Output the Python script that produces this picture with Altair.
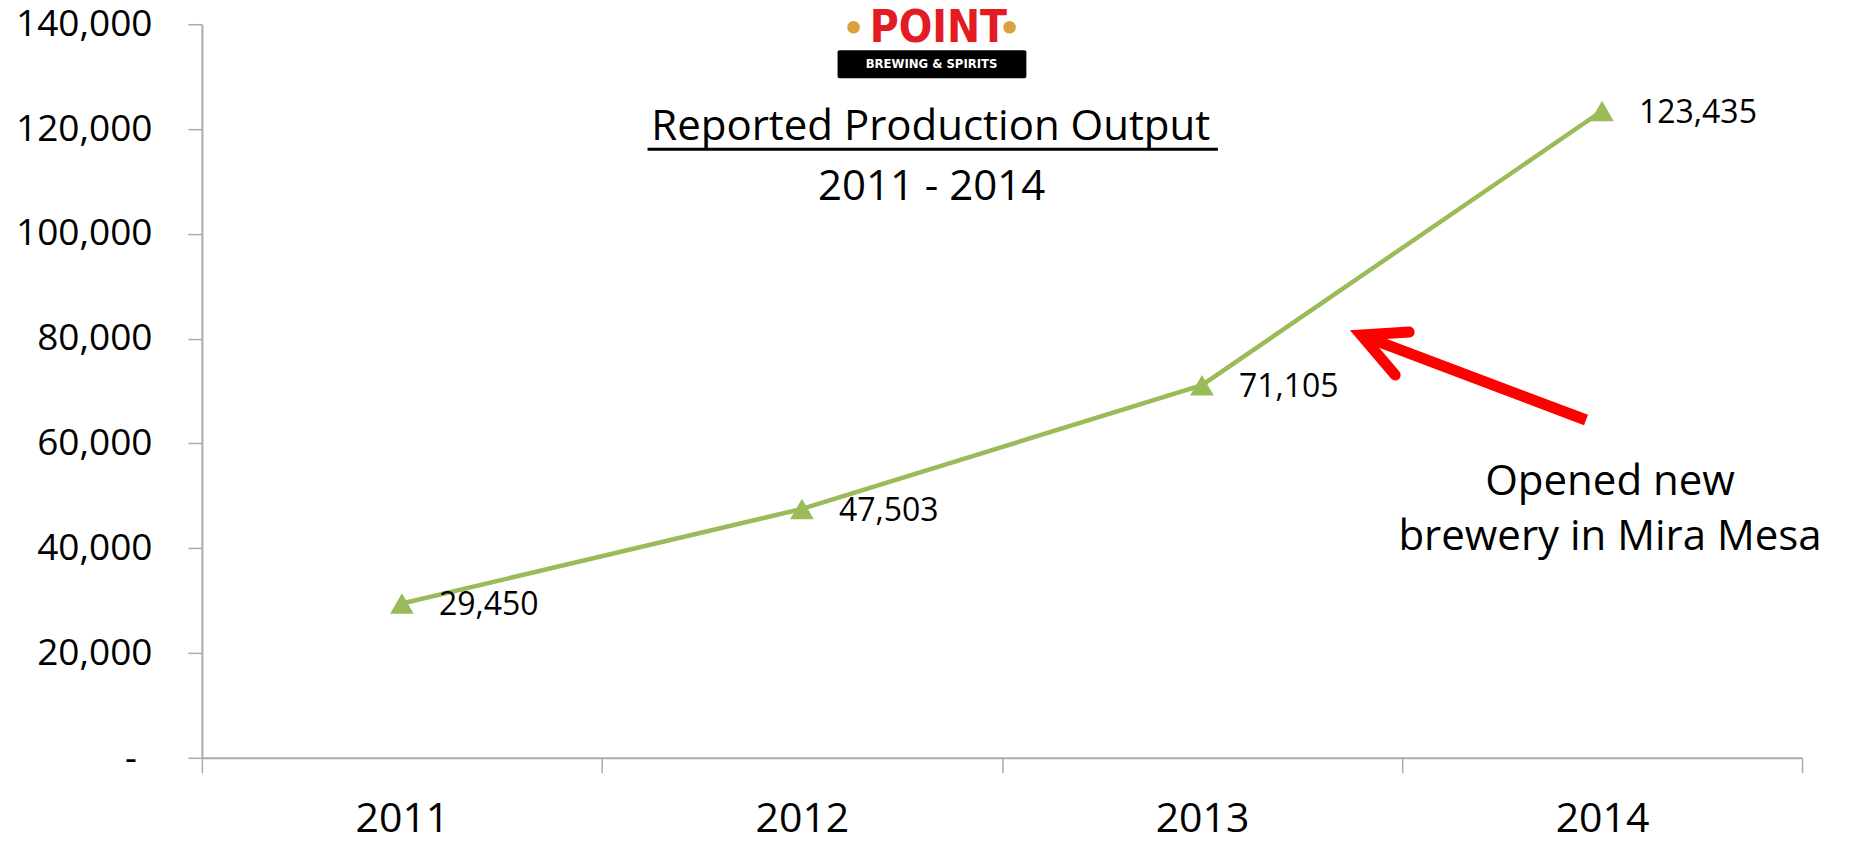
import altair as alt
import pandas as pd

# ---- data ----
years = [2011, 2012, 2013, 2014]
output = [29450, 47503, 71105, 123435]
value_labels = ["29,450", "47,503", "71,105", "123,435"]

y_ticks = [0, 20000, 40000, 60000, 80000, 100000, 120000, 140000]
x_ticks = [2010.5, 2011, 2011.5, 2012, 2012.5, 2013, 2013.5, 2014, 2014.5]
zero_label = ["-"]
zero_x = [2010.5]
zero_y = [0]

title_lines = ["Reported Production Output", "2011 - 2014"]
title_x = [2012.322, 2012.324]
title_y = [117875, 106431]
underline_x = [2011.614]
underline_x2 = [2013.040]
underline_y = [116158]

note_lines = ["Opened new", "brewery in Mira Mesa"]
note_x = [2014.020, 2014.020]
note_y = [50163, 39673]

arrow_shaft_x = [2013.960]
arrow_shaft_y = [64469]
arrow_tip_x = [2013.398]
arrow_tip_y = [80681]
arrow_head_x = [2013.518, 2013.398, 2013.483]
arrow_head_y = [81253, 80681, 73052]
arrow_head_order = [0, 1, 2]

logo_word = ["POINT"]
logo_word_x = [2012.341]
logo_word_y = [136567]
banner_x = [2012.089]
banner_x2 = [2012.561]
banner_y = [129700]
banner_y2 = [135041]
banner_text = ["BREWING & SPIRITS"]
banner_text_x = [2012.324]
banner_text_y = [132371]
wheat_x = [2012.129, 2012.519]
wheat_y = [139428, 139428]

FONT = "Open Sans"
AXIS_GRAY = "#ABABAB"
GREEN = "#9BBB59"

x_scale = alt.Scale(domain=[2010.5, 2014.5], nice=False, zero=False)
y_scale = alt.Scale(domain=[0, 140000], nice=False)

x_axis = alt.Axis(
    title=None, values=x_ticks, grid=False,
    tickOpacity={"condition": {"test": "datum.value % 1 != 0", "value": 1}, "value": 0},
    labelExpr="datum.value % 1 == 0 ? format(datum.value, 'd') : ''",
    labelOverlap=False, labelFlush=False,
    tickSize=15, tickWidth=1.5, tickColor=AXIS_GRAY,
    domainColor=AXIS_GRAY, domainWidth=2,
    labelFont=FONT, labelFontSize=41, labelColor="black", labelPadding=27,
)
y_axis = alt.Axis(
    title=None, values=y_ticks, grid=False,
    labelExpr="datum.value == 0 ? '' : format(datum.value, ',')",
    tickSize=14, tickWidth=1.5, tickColor=AXIS_GRAY,
    domainColor=AXIS_GRAY, domainWidth=2,
    labelFont=FONT, labelFontSize=37, labelColor="black", labelPadding=36,
)


def X(field):
    return alt.X(field, type="quantitative", scale=x_scale, axis=x_axis)


def Y(field):
    return alt.Y(field, type="quantitative", scale=y_scale, axis=y_axis)


df = pd.DataFrame({"year": years, "output": output, "label": value_labels})

line = alt.Chart(df).mark_line(color=GREEN, strokeWidth=4.5).encode(x=X("year"), y=Y("output"))
pts = alt.Chart(df).mark_point(shape="triangle-up", filled=True, size=560, color=GREEN, opacity=1).encode(
    x=X("year"), y=Y("output"))
labels = alt.Chart(df).mark_text(align="left", baseline="middle", dx=37, dy=2, fontSize=32,
                                 font=FONT, color="black").encode(x=X("year"), y=Y("output"), text="label:N")

zdf = pd.DataFrame({"x": zero_x, "y": zero_y, "t": zero_label})
zero = alt.Chart(zdf).mark_text(align="right", baseline="middle", dx=-65, dy=2, fontSize=37,
                                font=FONT, color="black").encode(x=X("x"), y=Y("y"), text="t:N")

tdf = pd.DataFrame({"x": title_x, "y": title_y, "t": title_lines})
title = alt.Chart(tdf).mark_text(align="center", baseline="alphabetic", fontSize=42, font=FONT,
                                 color="black").encode(x=X("x"), y=Y("y"), text="t:N")
udf = pd.DataFrame({"x": underline_x, "x2": underline_x2, "y": underline_y})
underline = alt.Chart(udf).mark_rule(color="black", strokeWidth=3).encode(x=X("x"), x2="x2", y=Y("y"))

ndf = pd.DataFrame({"x": note_x, "y": note_y, "t": note_lines})
note = alt.Chart(ndf).mark_text(align="center", baseline="alphabetic", fontSize=42, font=FONT,
                                color="black").encode(x=X("x"), y=Y("y"), text="t:N")

sdf = pd.DataFrame({"x": arrow_shaft_x, "y": arrow_shaft_y, "x2": arrow_tip_x, "y2": arrow_tip_y})
shaft = alt.Chart(sdf).mark_rule(color="#FF0000", strokeWidth=11, strokeCap="butt").encode(
    x=X("x"), y=Y("y"), x2="x2", y2="y2")
hdf = pd.DataFrame({"x": arrow_head_x, "y": arrow_head_y, "o": arrow_head_order})
head = alt.Chart(hdf).mark_line(color="#FF0000", strokeWidth=11, strokeCap="round", strokeJoin="miter",
                                strokeMiterLimit=10).encode(x=X("x"), y=Y("y"), order="o:Q")

bdf = pd.DataFrame({"x": banner_x, "x2": banner_x2, "y": banner_y, "y2": banner_y2})
banner = alt.Chart(bdf).mark_rect(color="black", cornerRadius=2).encode(x=X("x"), x2="x2", y=Y("y"), y2="y2")
btdf = pd.DataFrame({"x": banner_text_x, "y": banner_text_y, "t": banner_text})
btext = alt.Chart(btdf).mark_text(align="center", baseline="middle", fontSize=13, fontWeight="bold",
                                  font="DejaVu Sans Condensed, DejaVu Sans", color="white").encode(
    x=X("x"), y=Y("y"), text="t:N")
ldf = pd.DataFrame({"x": logo_word_x, "y": logo_word_y, "t": logo_word})
lword = alt.Chart(ldf).mark_text(align="center", baseline="alphabetic", fontSize=44, fontWeight="bold",
                                 font="DejaVu Sans Condensed, Liberation Sans", color="#E31B23").encode(
    x=X("x"), y=Y("y"), text="t:N")
wdf = pd.DataFrame({"x": wheat_x, "y": wheat_y})
wheat = alt.Chart(wdf).mark_point(shape="circle", filled=True, size=160, color="#D9A23F", opacity=1).encode(
    x=X("x"), y=Y("y"))

chart = alt.layer(
    line, pts, labels, zero, title, underline, note, shaft, head, banner, btext, lword, wheat
).properties(
    width=1601, height=734,
    autosize=alt.AutoSizeParams(type="none"),
    padding={"left": 194, "top": 16, "right": 40, "bottom": 77},
    background="white",
).configure_view(stroke=None)

chart.save("out.html", embed_options={"renderer": "svg", "actions": False})
